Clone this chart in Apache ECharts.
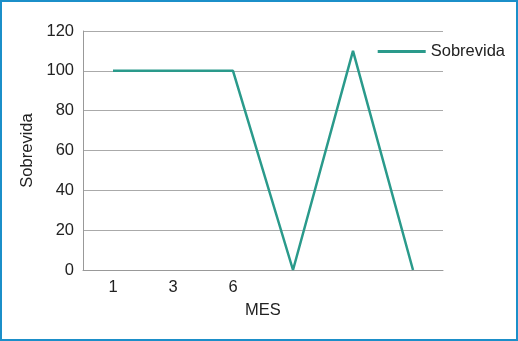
<!DOCTYPE html>
<html><head><meta charset="utf-8">
<script src="https://cdn.jsdelivr.net/npm/echarts@6/dist/echarts.min.js"></script>
<style>
html,body{margin:0;padding:0;background:#fff;}
#frame{width:518px;height:341px;box-sizing:border-box;border:2px solid #1b8fc9;position:relative;}
#chart{position:absolute;left:-2px;top:-2px;width:518px;height:341px;}
</style></head>
<body><div id="frame"><div id="chart"></div></div>
<script>
const categories = ['1', '3', '6', '', ' ', '  '];
const sobrevida = [100, 100, 100, 0, 110, 0];
const yTicks = {min: 0, max: 120, interval: 20};

const chart = echarts.init(document.getElementById('chart'), null, {renderer: 'canvas'});
chart.setOption({
  animation: false,
  textStyle: {fontFamily: 'Liberation Sans, Arial, sans-serif'},
  grid: {left: 83, right: 75, top: 31, bottom: 71, containLabel: false},
  legend: {
    data: ['Sobrevida'], right: 8, top: 38, itemWidth: 48, itemHeight: 3, itemGap: 5,
    icon: 'rect',
    textStyle: {fontSize: 16.5, color: '#222'}
  },
  xAxis: {
    type: 'category', data: categories, boundaryGap: true,
    name: 'MES', nameLocation: 'middle', nameGap: 32,
    nameTextStyle: {fontSize: 16.5, color: '#222'},
    axisLine: {lineStyle: {color: '#999', width: 1}},
    axisTick: {show: false},
    axisLabel: {fontSize: 16.5, color: '#222', margin: 9, interval: 0}
  },
  yAxis: {
    type: 'value', min: yTicks.min, max: yTicks.max, interval: yTicks.interval,
    name: 'Sobrevida', nameLocation: 'middle', nameGap: 43,
    nameTextStyle: {fontSize: 16.5, color: '#222'},
    axisLine: {show: true, lineStyle: {color: '#999', width: 1}},
    axisTick: {show: false},
    axisLabel: {fontSize: 16.5, color: '#222', margin: 9},
    splitLine: {lineStyle: {color: '#aaa', width: 1}}
  },
  series: [{
    name: 'Sobrevida', type: 'line', data: sobrevida,
    symbol: 'none', lineStyle: {color: '#2a9a8b', width: 2.5},
    itemStyle: {color: '#2a9a8b'}
  }]
});
</script></body></html>
